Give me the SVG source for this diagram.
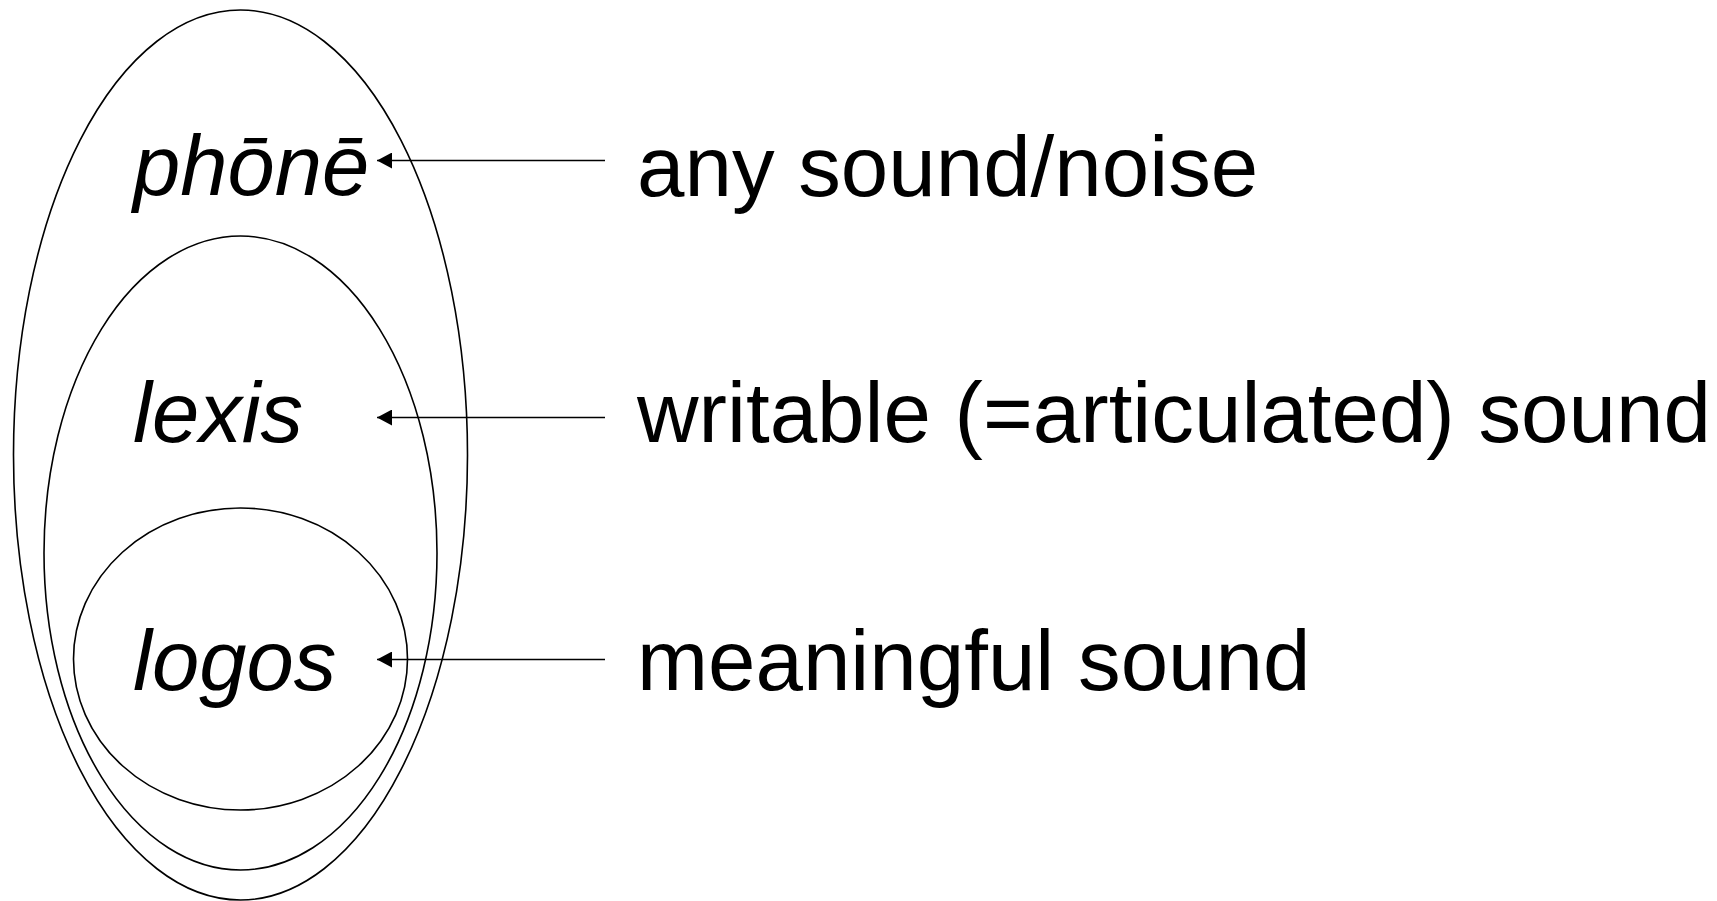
<svg xmlns="http://www.w3.org/2000/svg" width="1717" height="901" viewBox="0 0 1717 901">
<style>
.ell{fill:none;stroke:#000;stroke-width:1.6}
.term{font-family:"Liberation Sans",Arial,sans-serif;font-style:italic;font-size:85px;fill:#000}
.gloss{font-family:"Liberation Sans",Arial,sans-serif;font-size:85.3px;fill:#000}
.conn{stroke:#000;stroke-width:1.5;fill:none;marker-end:url(#arr)}
</style>
<defs>
<marker id="arr" markerUnits="userSpaceOnUse" markerWidth="16" markerHeight="16" refX="15" refY="8" orient="auto">
<path d="M0,0 L15,8 L0,16 z" fill="#000"/>
</marker>
</defs>
<rect width="1717" height="901" fill="#fff"/>
<g id="phone">
<ellipse class="ell" cx="240.5" cy="455" rx="227" ry="445"/>
<text class="term" x="133" y="195">phōnē</text>
</g>
<g id="lexis">
<ellipse class="ell" cx="240.5" cy="553" rx="196.5" ry="317"/>
<text class="term" x="133" y="442">lexis</text>
</g>
<g id="logos">
<ellipse class="ell" cx="240.5" cy="659" rx="167" ry="151"/>
<text class="term" x="133" y="690">logos</text>
</g>
<g id="gloss-phone"><text class="gloss" x="637" y="196">any sound/noise</text></g>
<g id="gloss-lexis"><text class="gloss" x="637" y="442">writable (=articulated) sound</text></g>
<g id="gloss-logos"><text class="gloss" x="637" y="690">meaningful sound</text></g>
<g id="connectors">
<line class="conn" x1="605" y1="160.5" x2="377" y2="160.5"/>
<line class="conn" x1="605" y1="417.5" x2="377" y2="417.5"/>
<line class="conn" x1="605" y1="659.5" x2="377" y2="659.5"/>
</g>
</svg>
